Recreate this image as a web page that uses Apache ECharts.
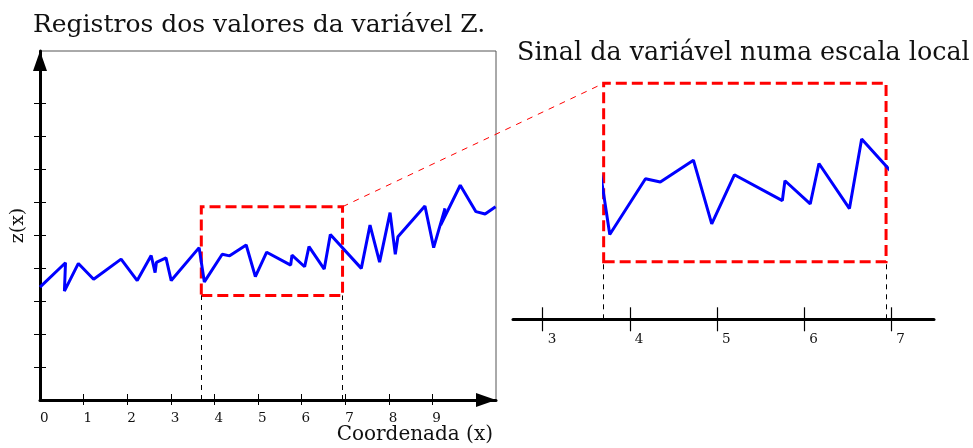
<!DOCTYPE html>
<html>
<head>
<meta charset="utf-8">
<script src="https://cdn.jsdelivr.net/npm/echarts@6/dist/echarts.min.js"></script>
<style>
  html, body { margin: 0; padding: 0; background: #fff; }
  #chart { width: 973px; height: 448px; }
</style>
</head>
<body>
<div id="chart"></div>
<script>
// Recorded samples of the variable Z along the coordinate x
const coordX = [0, 0.585, 0.56, 0.88, 1.23, 1.86, 2.23, 2.55, 2.64, 2.67, 2.89, 3.01, 3.65, 3.77,
  4.18, 4.35, 4.73, 4.94, 5.20, 5.75, 5.78, 6.07, 6.17, 6.52, 6.66, 7.37, 7.57, 7.79, 8.03, 8.15,
  8.21, 8.83, 9.03, 9.29, 9.19, 9.64, 10.0, 10.21, 10.45];
const valueZ = [3.42, 4.16, 3.30, 4.14, 3.66, 4.27, 3.62, 4.38, 3.86, 4.17, 4.31, 3.62, 4.62, 3.58,
  4.42, 4.37, 4.70, 3.74, 4.48, 4.09, 4.39, 4.04, 4.65, 3.97, 5.02, 3.99, 5.30, 4.18, 5.68, 4.42,
  4.95, 5.88, 4.62, 5.81, 5.30, 6.51, 5.71, 5.64, 5.86];

// Axis ticks and labels
const mainTickX = [1, 2, 3, 4, 5, 6, 7, 8, 9];
const mainLabelX = [0, 1, 2, 3, 4, 5, 6, 7, 8, 9];
const mainTickY = [1, 2, 3, 4, 5, 6, 7, 8, 9];
const localTickX = [3, 4, 5, 6, 7];

// Window that is enlarged in the local view
const windowX = [3.70, 6.94];
const windowZ = [3.17, 5.86];

// Axis ranges
const mainRangeX = [0, 10.46];
const mainRangeZ = [0, 10.58];
const localRangeX = [2.66, 7.49];
const localRangeZ = [2.30, 5.86];

const points = coordX.map((x, i) => [x, valueZ[i]]);

const FONT = 'DejaVu Serif';
const RED = '#ff0000';
const BLUE = '#0000ff';

// Layout of the two panels
const mainGrid = { left: 40, top: 51, width: 456, height: 349 };
const localGrid = { left: 513, top: 83.3, width: 421, height: 236 };

// The local line lives in its own grid so that it is clipped to the window
const sx = localGrid.width / (localRangeX[1] - localRangeX[0]);
const sz = localGrid.height / (localRangeZ[1] - localRangeZ[0]);
const windowGrid = {
  left: localGrid.left + (windowX[0] - localRangeX[0]) * sx,
  top: localGrid.top + (localRangeZ[1] - windowZ[1]) * sz,
  width: (windowX[1] - windowX[0]) * sx,
  height: (windowZ[1] - windowZ[0]) * sz
};

const hiddenAxis = { show: false };
const boxStyle = {
  color: 'rgba(0,0,0,0)', borderColor: RED, borderWidth: 3, borderType: [11, 5]
};
const guideStyle = { color: '#000', width: 1, type: [5, 5] };

function windowArea() {
  return {
    silent: true,
    itemStyle: boxStyle,
    data: [[{ coord: [windowX[0], windowZ[0]] }, { coord: [windowX[1], windowZ[1]] }]]
  };
}
function guides(zBottom) {
  return {
    silent: true,
    symbol: ['none', 'none'],
    label: { show: false },
    lineStyle: guideStyle,
    data: [
      [{ coord: [windowX[0], zBottom] }, { coord: [windowX[0], windowZ[0]] }],
      [{ coord: [windowX[1], zBottom] }, { coord: [windowX[1], windowZ[0]] }]
    ]
  };
}

const chart = echarts.init(document.getElementById('chart'), null, { renderer: 'canvas' });

chart.setOption({
  animation: false,
  backgroundColor: '#fff',
  title: [
    { text: 'Registros dos valores da variável Z.', left: 33, top: 13, padding: 0,
      textStyle: { fontFamily: FONT, fontSize: 25, fontWeight: 'normal', color: '#111' } },
    { text: 'Sinal da variável numa escala local', left: 517, top: 41, padding: 0,
      textStyle: { fontFamily: FONT, fontSize: 25.4, fontWeight: 'normal', color: '#111' } },
    { text: 'Coordenada (x)', right: 480, top: 425, padding: 0,
      textStyle: { fontFamily: FONT, fontSize: 20, fontWeight: 'normal', color: '#111' } }
  ],
  grid: [
    Object.assign({ show: true, borderColor: '#555', borderWidth: 1 }, mainGrid),
    windowGrid,
    localGrid
  ],
  xAxis: [
    {
      gridIndex: 0, type: 'value', min: mainRangeX[0], max: mainRangeX[1],
      axisLine: { show: true, symbol: ['none', 'triangle'], symbolSize: [14, 20], symbolOffset: [0, -10],
        lineStyle: { color: '#000', width: 3 } },
      axisTick: { show: true, length: 5, customValues: mainTickX, lineStyle: { color: '#000', width: 1 } },
      axisLabel: { show: true, customValues: mainLabelX, align: 'left', margin: 11,
        fontFamily: FONT, fontSize: 13.5, color: '#111' },
      splitLine: { show: false }
    },
    {
      gridIndex: 0, type: 'value', position: 'bottom', min: mainRangeX[0], max: mainRangeX[1],
      axisLine: { show: false },
      axisTick: { show: true, inside: true, length: 6, customValues: mainTickX, lineStyle: { color: '#000', width: 1 } },
      axisLabel: { show: false }, splitLine: { show: false }
    },
    Object.assign({ gridIndex: 1, type: 'value', min: windowX[0], max: windowX[1] }, hiddenAxis),
    {
      gridIndex: 2, type: 'value', min: localRangeX[0], max: localRangeX[1],
      axisLine: { show: true, lineStyle: { color: '#000', width: 3 } },
      axisTick: { show: true, length: 12, customValues: localTickX, lineStyle: { color: '#000', width: 1.2 } },
      axisLabel: { show: true, customValues: localTickX, align: 'left', padding: [0, 0, 0, 5], margin: 13,
        fontFamily: FONT, fontSize: 13.5, color: '#111' },
      splitLine: { show: false }
    },
    {
      gridIndex: 2, type: 'value', position: 'bottom', min: localRangeX[0], max: localRangeX[1],
      axisLine: { show: false },
      axisTick: { show: true, inside: true, length: 12, customValues: localTickX, lineStyle: { color: '#000', width: 1.2 } },
      axisLabel: { show: false }, splitLine: { show: false }
    }
  ],
  yAxis: [
    {
      gridIndex: 0, type: 'value', min: mainRangeZ[0], max: mainRangeZ[1],
      name: 'z(x)', nameLocation: 'middle', nameGap: 12, nameRotate: 90,
      nameTextStyle: { fontFamily: FONT, fontSize: 19, color: '#111' },
      axisLine: { show: true, symbol: ['none', 'triangle'], symbolSize: [14, 20], symbolOffset: [0, -10],
        lineStyle: { color: '#000', width: 3 } },
      axisTick: { show: true, length: 6, customValues: mainTickY, lineStyle: { color: '#000', width: 1 } },
      axisLabel: { show: false },
      splitLine: { show: false }
    },
    {
      gridIndex: 0, type: 'value', position: 'left', min: mainRangeZ[0], max: mainRangeZ[1],
      axisLine: { show: false },
      axisTick: { show: true, inside: true, length: 6, customValues: mainTickY, lineStyle: { color: '#000', width: 1 } },
      axisLabel: { show: false }, splitLine: { show: false }
    },
    Object.assign({ gridIndex: 1, type: 'value', min: windowZ[0], max: windowZ[1] }, hiddenAxis),
    Object.assign({ gridIndex: 2, type: 'value', min: localRangeZ[0], max: localRangeZ[1] }, hiddenAxis)
  ],
  series: [
    {
      name: 'z(x)', type: 'line', xAxisIndex: 0, yAxisIndex: 0, data: points,
      showSymbol: false, symbol: 'none', z: 5,
      lineStyle: { color: BLUE, width: 3 },
      markArea: windowArea(),
      markLine: guides(mainRangeZ[0])
    },
    {
      name: 'local', type: 'line', xAxisIndex: 2, yAxisIndex: 2, data: points,
      showSymbol: false, symbol: 'none', clip: true, z: 5,
      lineStyle: { color: BLUE, width: 3 }
    },
    {
      name: 'window', type: 'line', xAxisIndex: 3, yAxisIndex: 3, data: [],
      showSymbol: false, symbol: 'none',
      markArea: windowArea(),
      markLine: guides(localRangeZ[0])
    }
  ]
});

// Dashed connector from the window corner in the main panel to the local view
const fromPt = chart.convertToPixel({ xAxisIndex: 0, yAxisIndex: 0 }, [windowX[1], windowZ[1]]);
const toPt = chart.convertToPixel({ xAxisIndex: 3, yAxisIndex: 3 }, [windowX[0], windowZ[1]]);
chart.setOption({
  graphic: [{
    type: 'line', silent: true, z: 10,
    shape: { x1: fromPt[0], y1: fromPt[1], x2: toPt[0], y2: toPt[1] },
    style: { stroke: RED, lineWidth: 1, lineDash: [6, 6] }
  }]
});
</script>
</body>
</html>
